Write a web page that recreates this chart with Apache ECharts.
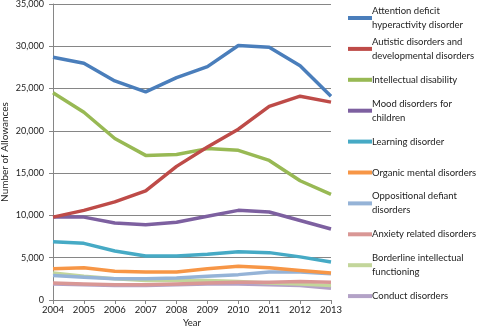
<!DOCTYPE html>
<html><head><meta charset="utf-8">
<script src="https://cdn.jsdelivr.net/npm/echarts@6/dist/echarts.min.js"></script>
<style>html,body{margin:0;padding:0;background:#fff}#c{width:477px;height:329px}</style>
</head><body><div id="c"></div>
<script>
const years = ['2004','2005','2006','2007','2008','2009','2010','2011','2012','2013'];
const seriesNames = [
  'Attention deficit\nhyperactivity disorder',
  'Autistic disorders and\ndevelopmental disorders',
  'Intellectual disability',
  'Mood disorders for\nchildren',
  'Learning disorder',
  'Organic mental disorders',
  'Oppositional defiant\ndisorders',
  'Anxiety related disorders',
  'Borderline intellectual\nfunctioning',
  'Conduct disorders'
];
const adhd = [28700, 28000, 25900, 24600, 26300, 27600, 30100, 29900, 27700, 24100];
const autism = [9800, 10600, 11600, 12900, 15800, 18100, 20200, 22900, 24100, 23400];
const intellectual = [24500, 22200, 19100, 17100, 17200, 17900, 17700, 16500, 14100, 12500];
const mood = [9800, 9800, 9100, 8900, 9200, 9900, 10600, 10400, 9400, 8400];
const learning = [6900, 6700, 5800, 5200, 5200, 5400, 5700, 5600, 5100, 4500];
const organic = [3700, 3800, 3400, 3300, 3300, 3700, 4000, 3800, 3500, 3200];
const oppositional = [2900, 2700, 2500, 2500, 2600, 2800, 3000, 3300, 3300, 3100];
const anxiety = [2000, 1900, 1800, 1800, 1900, 2000, 2100, 2100, 2200, 2100];
const borderline = [3200, 2800, 2500, 2300, 2300, 2300, 2200, 2000, 1900, 1700];
const conduct = [1900, 1800, 1700, 1700, 1800, 1900, 1900, 1800, 1700, 1400];
const yTicks = [0, 5000, 10000, 15000, 20000, 25000, 30000, 35000];

const allData = [adhd, autism, intellectual, mood, learning, organic, oppositional, anxiety, borderline, conduct];
const colors = ['#4A7EBB','#BE4B48','#98B954','#7D60A0','#46AAC5','#F79646','#95B3D7','#D99795','#C3D69B','#B3A2C7'];
const FONT = 'Lato';
const FS = 9.5;
const LH = 14;

const chart = echarts.init(document.getElementById('c'), null, {renderer:'canvas'});
const legends = seriesNames.map((n, i) => {
  const twoLine = n.indexOf('\n') >= 0;
  const iconY = 18 + i * 30.9;
  return {
    orient: 'vertical',
    left: 348,
    top: iconY - (twoLine ? 1.5 * LH : 0.5 * LH),
    itemWidth: 24, itemHeight: 12, itemGap: 0,
    padding: 0,
    icon: 'path://M0,4L24,4L24,8L0,8Z',
    data: [n],
    selectedMode: false,
    textStyle: {
      fontFamily: FONT, fontSize: FS, color: '#222', lineHeight: LH,
      padding: twoLine ? [LH, 0, 0, -5] : [0, 0, 0, -5]
    }
  };
});
chart.setOption({
  animation: false,
  color: colors,
  grid: {left: 53, right: 146, top: 4, bottom: 29, containLabel: false, outerBoundsMode: 'none'},
  legend: legends,
  xAxis: {
    type: 'category', data: years, boundaryGap: false,
    name: 'Year', nameLocation: 'middle', nameGap: 18, nameMoveOverlap: false,
    nameTextStyle: {fontFamily: FONT, fontSize: FS, color: '#222'},
    axisLine: {lineStyle: {color: '#868686'}},
    axisTick: {show: true, interval: 0, length: 4, lineStyle: {color: '#868686'}},
    axisLabel: {fontFamily: FONT, fontSize: FS, color: '#222', margin: 5, interval: 0}
  },
  yAxis: {
    type: 'value', min: yTicks[0], max: yTicks[yTicks.length-1], interval: 5000,
    name: 'Number of Allowances', nameLocation: 'middle', nameGap: 43, nameMoveOverlap: false,
    nameTextStyle: {fontFamily: FONT, fontSize: 10, color: '#222'},
    axisLine: {show: true, lineStyle: {color: '#868686'}},
    axisTick: {show: true, length: 4, lineStyle: {color: '#868686'}},
    splitLine: {lineStyle: {color: '#868686', width: 1}},
    axisLabel: {fontFamily: FONT, fontSize: 9, color: '#222', margin: 9,
      formatter: v => v.toLocaleString('en-US')}
  },
  series: allData.map((d, i) => ({
    name: seriesNames[i], type: 'line', data: d, symbol: 'none',
    lineStyle: {width: 3.5, color: colors[i]}, itemStyle: {color: colors[i]}, z: 10 - i
  }))
});
</script></body></html>
